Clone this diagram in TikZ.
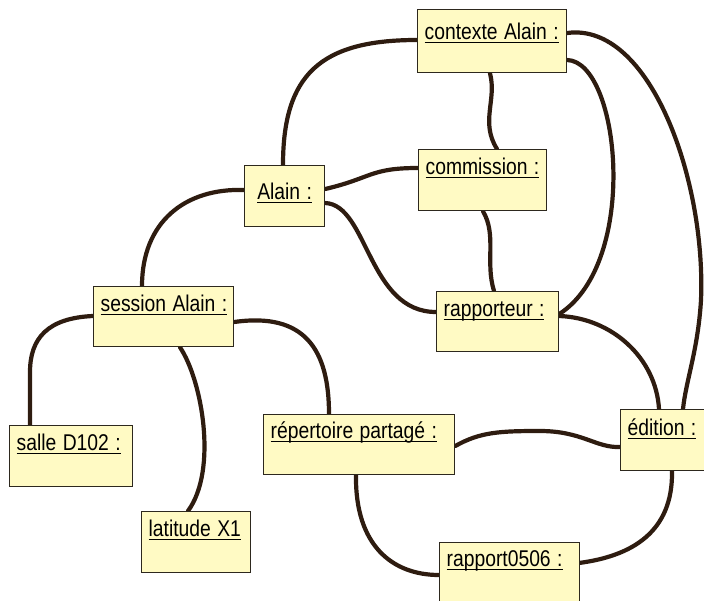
\documentclass[tikz,border=0pt]{standalone}
\usepackage{fontspec}
\usepackage{graphicx}
\usetikzlibrary{backgrounds}
\setmainfont{Liberation Sans}
\definecolor{boxfill}{RGB}{255,250,196}
\definecolor{boxline}{RGB}{45,40,30}
\definecolor{wire}{RGB}{46,28,16}
\newcommand\ulx[1]{\scalebox{1}[1.18]{\setbox0=\hbox{#1}\rlap{\rule[-2.6pt]{\wd0}{0.9pt}}\box0}}
\begin{document}
\begin{tikzpicture}[x=1pt,y=-1pt,
  obj/.style={draw=boxline, fill=boxfill, line width=1.3pt, anchor=north west,
    inner xsep=7pt, inner ysep=0pt, text height=25pt, text depth=36pt,
    align=left, font=\fontsize{19.3}{21}\selectfont},
  wirel/.style={draw=wire, line width=4.2pt, line cap=round, line join=round}]
\clip (0,0) rectangle (704,601);
% nodes
\node[obj, text width=135pt, text height=30pt, text depth=33pt] (ctx) at (417,9) {\ulx{contexte Alain :}};
\node[obj, text width=114pt] (com) at (418,149) {\ulx{commission :}};
\node[obj, text width=66pt, align=center, text height=34pt, text depth=27pt] (ala) at (244,165) {\ulx{Alain :}};
\node[obj, text width=108pt, text depth=35pt] (rap) at (436,291) {\ulx{rapporteur :}};
\node[obj, text width=126pt, text depth=35pt] (ses) at (93,286) {\ulx{session Alain :}};
\node[obj, text width=109pt] (sal) at (9,425) {\ulx{salle D102 :}};
\node[obj, text width=95pt] (lat) at (141,511) {\ulx{latitude X1}};
\node[obj, text width=177pt, text height=24pt] (rep) at (263,414) {\ulx{répertoire partagé :}};
\node[obj, text width=90pt, text height=26pt, text depth=35pt] (edi) at (620,409) {\ulx{édition :}};
\node[obj, text width=126pt, text height=24pt, text depth=37pt] (rpt) at (439,542) {\ulx{rapport0506 :}};
% connectors
\begin{pgfonlayer}{background}
\path[wirel] ([shift={(0,31)}]ctx.north west) .. controls (320,40) and (283,75) .. ([shift={(39,0)}]ala.north west);
\path[wirel] ([shift={(73,0)}]ctx.south west) .. controls (497,100) and (480,122) .. ([shift={(79,0)}]com.north west);
\path[wirel] ([shift={(0,24)}]ctx.north east) .. controls (650,22) and (706,180) .. (701,300) .. controls (698,350) and (686,380) .. ([shift={(63,0)}]edi.north west);
\path[wirel] ([shift={(0,51)}]ctx.north east) .. controls (620,62) and (640,262) .. ([shift={(0,23)}]rap.north east);
\path[wirel] ([shift={(0,24)}]ala.north east) .. controls (372,178) and (370,168) .. ([shift={(0,19)}]com.north west);
\path[wirel] ([shift={(0,38)}]ala.north east) .. controls (368,205) and (368,312) .. ([shift={(0,21)}]rap.north west);
\path[wirel] ([shift={(65,0)}]com.south west) .. controls (497,235) and (485,262) .. ([shift={(58,0)}]rap.north west);
\path[wirel] ([shift={(0,25)}]ala.north west) .. controls (185,188) and (142,222) .. ([shift={(49,0)}]ses.north west);
\path[wirel] ([shift={(0,30)}]ses.north west) .. controls (48,318) and (30,338) .. (30,372) -- ([shift={(21,0)}]sal.north west);
\path[wirel] ([shift={(87,0)}]ses.south west) .. controls (202,380) and (218,470) .. ([shift={(47,0)}]lat.north west);
\path[wirel] ([shift={(0,36)}]ses.north east) .. controls (305,312) and (329,350) .. ([shift={(66,0)}]rep.north west);
\path[wirel] ([shift={(0,32)}]rep.north east) .. controls (480,432) and (500,431) .. (540,431) .. controls (582,431) and (596,448) .. ([shift={(0,38)}]edi.north west);
\path[wirel] ([shift={(93,0)}]rep.south west) .. controls (355,545) and (392,575) .. ([shift={(0,33)}]rpt.north west);
\path[wirel] ([shift={(52,0)}]edi.south west) .. controls (673,532) and (632,556) .. ([shift={(140,21)}]rpt.north west);
\path[wirel] ([shift={(0,25)}]rap.north east) .. controls (612,318) and (656,358) .. ([shift={(39,0)}]edi.north west);
\end{pgfonlayer}
\end{tikzpicture}
\end{document}
